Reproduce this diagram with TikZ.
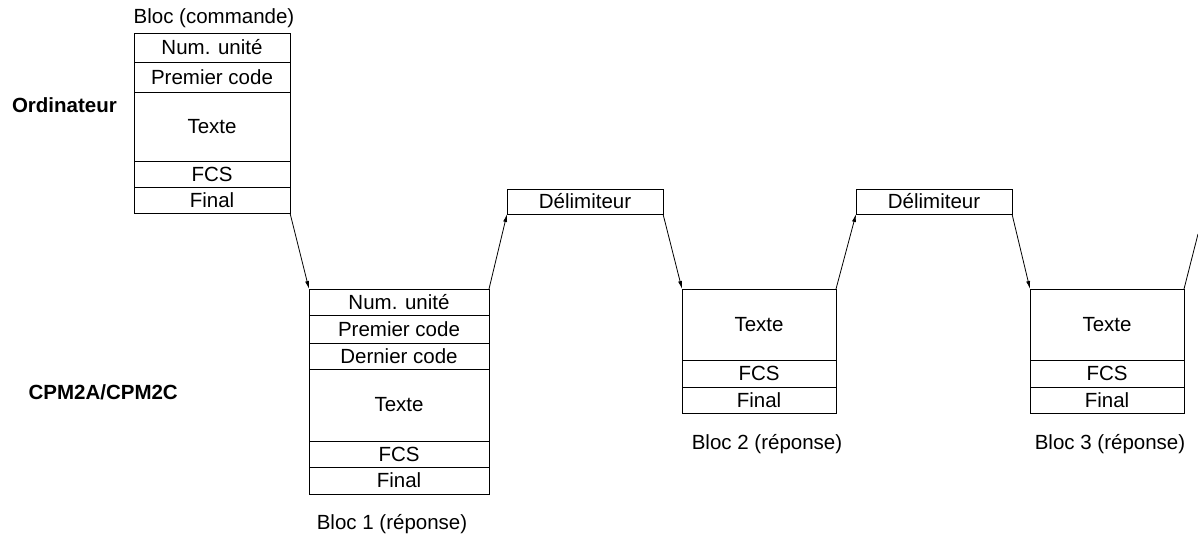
\documentclass[tikz,border=0pt]{standalone}
\usepackage{fontspec}
\setmainfont{Liberation Sans}
\usetikzlibrary{arrows.meta,positioning}

\begin{document}
\begin{tikzpicture}[x=1pt,y=-1pt,
  cell/.style 2 args={draw=black, line width=0.8pt, inner sep=0pt, outer sep=0pt,
    minimum width=#1, minimum height=#2, font=\fontsize{20.5pt}{23pt}\selectfont},
  tag/.style={font=\fontsize{20.5pt}{23pt}\selectfont, inner sep=0pt},
  side/.style={font=\fontsize{20.5pt}{23pt}\selectfont\bfseries, inner sep=0pt},
  arr/.style={line width=0.8pt, -{Latex[length=8pt,width=4pt]}}]

\useasboundingbox (0,0) rectangle (1198,537);

%%%%%bloc commande
\node[cell={156pt}{29pt}, anchor=north west] (c1) at (134,33) {Num. unité};
\node[cell={156pt}{30pt}, below=0pt of c1] (c2) {Premier code};
\node[cell={156pt}{69pt}, below=0pt of c2] (c3) {Texte};
\node[cell={156pt}{26pt}, below=0pt of c3] (c4) {FCS};
\node[cell={156pt}{26pt}, below=0pt of c4] (c5) {Final};
\node[tag] (lc) at (214,18) {Bloc (commande)};

%%%%%bloc 1
\node[cell={180pt}{26pt}, anchor=north west] (a1) at (309,289) {Num. unité};
\node[cell={180pt}{28pt}, below=0pt of a1] (a2) {Premier code};
\node[cell={180pt}{26pt}, below=0pt of a2] (a3) {Dernier code};
\node[cell={180pt}{72pt}, below=0pt of a3] (a4) {Texte};
\node[cell={180pt}{26pt}, below=0pt of a4] (a5) {FCS};
\node[cell={180pt}{27pt}, below=0pt of a5] (a6) {Final};
\node[tag] (la) at (392,524) {Bloc 1 (réponse)};

%%%%%delimiteurs
\node[cell={156pt}{25pt}, anchor=north west] (d1) at (507,189) {Délimiteur};
\node[cell={156pt}{25pt}, anchor=north west] (d2) at (856,189) {Délimiteur};

%%%%%bloc 2
\node[cell={154pt}{71pt}, anchor=north west] (b1) at (682,289) {Texte};
\node[cell={154pt}{27pt}, below=0pt of b1] (b2) {FCS};
\node[cell={154pt}{26pt}, below=0pt of b2] (b3) {Final};
\node[tag] (lb) at (767,444) {Bloc 2 (réponse)};

%%%%%bloc 3
\node[cell={154pt}{71pt}, anchor=north west] (t1) at (1030,289) {Texte};
\node[cell={154pt}{27pt}, below=0pt of t1] (t2) {FCS};
\node[cell={154pt}{26pt}, below=0pt of t2] (t3) {Final};
\node[tag] (lt) at (1110,444) {Bloc 3 (réponse)};

%%%%%cotes
\node[side, anchor=east] (pc) at (117,105) {Ordinateur};
\node[side, anchor=east] (plc) at (178,392) {CPM2A/CPM2C};

%%%%%fleches
\coordinate (bord) at (1198,234);
\draw[arr] (c5.south east) -- (a1.north west);
\draw[arr] (a1.north east) -- (d1.south west);
\draw[arr] (d1.south east) -- (b1.north west);
\draw[arr] (b1.north east) -- (d2.south west);
\draw[arr] (d2.south east) -- (t1.north west);
\draw[line width=0.8pt] (t1.north east) -- (bord);

\end{tikzpicture}
\end{document}
